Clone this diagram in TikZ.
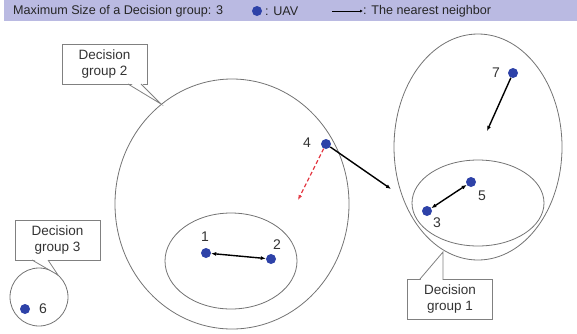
\documentclass[tikz,border=0pt]{standalone}
\usepackage{fontspec}
\setmainfont{Liberation Sans}
\usetikzlibrary{arrows.meta,positioning}
\definecolor{uavblue}{RGB}{46,66,168}
\definecolor{barlav}{RGB}{186,186,226}
\definecolor{nbred}{RGB}{228,60,70}

\begin{document}
\begin{tikzpicture}[x=1pt,y=-1pt,>={Latex[length=5pt,width=4pt]},
 font=\fontsize{13.5}{15.5}\selectfont,
 uav/.style={circle,fill=uavblue,inner sep=0pt,minimum size=10pt},
 num/.style={inner sep=1pt,text=black!80,font=\fontsize{14}{16}\selectfont},
 group/.style={draw=black!55,line width=0.8pt},
 callout/.style={draw=black!50,line width=0.8pt,fill=white,align=center,text=black!80,
  minimum width=85pt,minimum height=40pt,inner sep=2pt},
 tail/.style={draw=black!50,line width=0.8pt},
 link/.style={line width=1.4pt}]
 \useasboundingbox (0,0) rectangle (577,333);
 % legend bar
 \fill[barlav] (4,0) rectangle (577,21);
 \begin{scope}[font=\fontsize{12.6}{14}\selectfont,text=black!85]
  \node[anchor=west,inner sep=0pt] (title) at (13,11) {Maximum Size of a Decision group: 3};
  \node[uav] (key) at (257,11) {};
  \node[anchor=west,inner sep=0pt] (keytxt) at (265,11) {: UAV};
  \coordinate (ka) at (332,11);
  \node[anchor=west,inner sep=0pt] (arrtxt) at (363,11) {: The nearest neighbor};
  \draw[line width=0.8pt,-{Latex[length=3pt,width=3pt]}] (ka) -- (arrtxt.west);
 \end{scope}
 % groups
 \draw[group] (232,204) ellipse [x radius=117,y radius=125];
 \draw[group] (231,261) ellipse [x radius=66,y radius=48];
 \draw[group] (478,147) ellipse [x radius=84,y radius=113];
 \draw[group] (478,203) ellipse [x radius=66,y radius=43];
 \draw[group] (39,297) circle [radius=29];
 % callouts
 \node[callout] (cg2) at (104.5,64) {Decision\\group 2};
 \node[callout] (cg1) at (450,299) {Decision\\group 1};
 \node[callout] (cg3) at (57.5,240) {Decision\\group 3};
 \coordinate (t2) at (161,104);
 \coordinate (t1) at (443,252);
 \coordinate (t3) at (58,275);
 \fill[white] (128.5,82) -- (t2) -- (140.5,82) -- cycle;
 \draw[tail] (128,84) -- (t2) -- (141,84);
 \fill[white] (420.5,280) -- (t1) -- (442.5,280) -- cycle;
 \draw[tail] (420,279) -- (t1) -- (443,279);
 \fill[white] (32.5,259) -- (t3) -- (47.5,259) -- cycle;
 \draw[tail] (32,260) -- (t3) -- (48,260);
 % UAVs
 \foreach \i/\x/\y in {1/206/253,2/271/259,3/427/211,4/326/144,5/471/182,6/25/309,7/513/73}
  \node[uav] (u\i) at (\x,\y) {};
 \node[num] (l1) at (205,237) {1};
 \node[num] (l2) at (277,245) {2};
 \node[num] (l3) at (437,223) {3};
 \node[num] (l4) at (307,143) {4};
 \node[num] (l5) at (482,196) {5};
 \node[num] (l6) at (43,309) {6};
 \node[num] (l7) at (496,73) {7};
 % nearest neighbours
 \coordinate (a4) at (391,189);
 \coordinate (r4) at (298,200);
 \coordinate (a7) at (487,131);
 \draw[link,<->] (u1) -- (u2);
 \draw[link,<->] (u3) -- (u5);
 \draw[link,->] (u4) -- (a4);
 \draw[link,->] (u7) -- (a7);
 \draw[line width=1.2pt,nbred,dash pattern=on 4pt off 2.5pt,->] (u4) -- (r4);
\end{tikzpicture}
\end{document}
